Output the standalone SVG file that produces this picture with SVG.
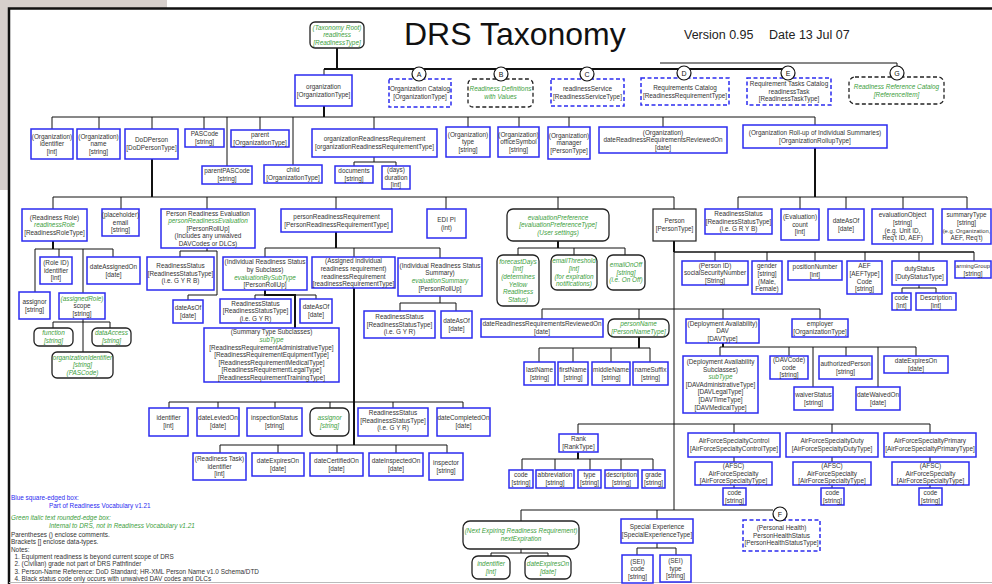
<svg xmlns="http://www.w3.org/2000/svg" width="992" height="584" viewBox="0 0 992 584">
<style>
text{font-family:"Liberation Sans",Arial,sans-serif;font-size:6.4px;fill:#333;text-anchor:middle}
.g{fill:#3c9e3c;font-style:italic}
.lg{text-anchor:start}
.lb{fill:#2b2bf0}
.b{fill:#fff;stroke:#2b2bf0;stroke-width:1.5}
.bd{fill:#fff;stroke:#2b2bf0;stroke-width:1.5;stroke-dasharray:4 2.5}
.k{fill:#fff;stroke:#222;stroke-width:1.2}
.r{fill:#fff;stroke:#222;stroke-width:1.3}
.rd{fill:#fff;stroke:#222;stroke-width:1.3;stroke-dasharray:4 2.5}
.ci{fill:#fff;stroke:#111;stroke-width:1.2}
.cl{font-size:7px;fill:#111}
.sm{font-size:5.8px}
#connectors path{fill:none;stroke:#111;stroke-width:1}
#connectors path.t{stroke-width:2}
#connectors path.m{stroke-width:1.5}
</style>
<rect x="0" y="0" width="992" height="584" fill="#fff"/>
<path d="M0 0H167V8H8V190H0Z" fill="#d6cfcc"/>
<path d="M9 584V8.5H992" fill="none" stroke="#111" stroke-width="2.5"/>
<path d="M9 582.5H992" fill="none" stroke="#bbb" stroke-width="1"/>
<text x="404" y="45" style="font-size:32px;text-anchor:start;fill:#111">DRS Taxonomy</text>
<text x="684" y="39" style="font-size:12.5px;text-anchor:start;fill:#222">Version 0.95</text>
<text x="769" y="39" style="font-size:12.5px;text-anchor:start;fill:#222">Date 13 Jul 07</text>

<g id="connectors">
<path class="t" d="M337 48V69M324 69H788M324 106V117M152 159V197M815 148V197M53 241V249M336 232V248M354 288V445M558 241V248M674 241V252M639 337V348M723 343V347M578 452V459M265 290V295H295V328"/>
<path d="M324 69V75M660 63H897V66"/>
<path d="M52 117H815M52 117V129M99 117V129M152 117V129M204 117V129M227 117V166M260 117V130M293 117V165M374 117V129M468 117V127M519 117V127M569 117V127M663 117V127M815 117V125"/>
<path d="M374 157V162M354 162H396M354 162V166M396 162V166"/>
<path d="M53 197H674M53 197V209M121 197V209M207 197V209M336 197V209M446 197V209M558 197V209M674 197V209"/>
<path d="M738 197H967M738 197V209M800 197V209M846 197V209M903 197V209M967 197V209"/>
<path d="M35 249H113M35 249V292M59 249V257M83 249V293M113 249V257"/>
<path d="M83 319V352M53 322H110M53 322V328M110 322V328"/>
<path d="M207 248V251M180 251H217M180 251V257M217 251V295H188V300"/>
<path d="M265 248H440M265 248V257M354 248V257M440 248V258"/>
<path d="M255 295H316M255 295V299M316 295V299"/>
<path d="M169 402H463M169 402V408M218 402V408M275 402V408M330 402V408M393 402V408M463 402V408"/>
<path d="M220 445H447M220 445V453M278 445V453M337 445V453M396 445V453M447 445V453"/>
<path d="M440 296V303M400 303H456M400 303V311M456 303V311"/>
<path d="M518 248H625M518 248V255M574 248V255M625 248V255"/>
<path d="M674 252V510"/>
<path class="m" d="M674 252H974"/>
<path d="M715 252V261M767 252V261M815 252V261M865 252V261M919 252V261M974 252V261"/>
<path d="M919 285V288M902 288H936M902 288V293M936 288V293"/>
<path d="M542 309H820M542 309V319M639 309V319M723 309V319M820 309V319"/>
<path d="M539 348H650M539 348V362M573 348V362M611 348V362M650 348V362"/>
<path d="M720 347H916M720 347V356M789 347V356M813 347V387M846 347V356M878 347V387M916 347V356"/>
<path d="M578 424H930M578 424V434M734 424V433M832 424V433M930 424V433"/>
<path d="M522 459H653M522 459V470M555 459V470M590 459V470M621 459V470M653 459V470"/>
<path d="M734 457V462M734 485V488M832 457V462M832 485V488M930 457V462M930 485V488"/>
<path d="M521 510H773M521 510V521M657 510V519"/>
<path d="M521 549V553M491 553H548M491 553V556M548 553V556"/>
<path d="M657 543V548M637 548H676M637 548V555M676 548V555"/>
</g>

<g id="n-root"><rect class="r" x="310" y="22" width="54" height="26" rx="5"/><text class="g" x="337" y="29.6">(Taxonomy Root)</text><text class="g" x="337" y="37.2">readiness</text><text class="g" x="337" y="44.8">[ReadinessType]</text></g>
<g id="n-organization"><rect class="b" x="295" y="75" width="57" height="31"/><text x="323.5" y="88.9">organization</text><text x="323.5" y="96.5">[OrganizationType]</text></g>
<g id="n-catA"><rect class="bd" x="389" y="79" width="62" height="28"/><text x="420" y="91.4">Organization Catalog</text><text x="420" y="99">[OrganizationType]</text></g>
<g id="n-catB"><rect class="rd" x="468" y="79" width="65" height="28" rx="5"/><text class="g" x="500.5" y="91.4">Readiness Definitions</text><text class="g" x="500.5" y="99">with Values</text></g>
<g id="n-catC"><rect class="bd" x="551" y="79" width="73" height="27"/><text x="587.5" y="90.9">readinessService</text><text x="587.5" y="98.5">[ReadinessServiceType]</text></g>
<g id="n-catD"><rect class="bd" x="641" y="78" width="88" height="27"/><text x="685" y="89.9">Requirements Catalog</text><text x="685" y="97.5">[ReadinessRequirementType]</text></g>
<g id="n-catE"><rect class="bd" x="747" y="78" width="84" height="27"/><text x="789" y="86.1">Requirement Tasks Catalog</text><text x="789" y="93.7">readinessTask</text><text x="789" y="101.3">[ReadinessTaskType]</text></g>
<g id="n-catG"><rect class="rd" x="849" y="77" width="95" height="27" rx="6"/><text class="g" x="896.5" y="88.9">Readiness Reference Catalog</text><text class="g" x="896.5" y="96.5">[ReferenceItem]</text></g>
<g id="circles">
<circle class="ci" cx="419" cy="74" r="7"/><text class="cl" x="419" y="76.5">A</text>
<circle class="ci" cx="501" cy="74" r="7"/><text class="cl" x="501" y="76.5">B</text>
<circle class="ci" cx="587" cy="74" r="7"/><text class="cl" x="587" y="76.5">C</text>
<circle class="ci" cx="684" cy="73" r="7"/><text class="cl" x="684" y="75.5">D</text>
<circle class="ci" cx="788" cy="73" r="7"/><text class="cl" x="788" y="75.5">E</text>
<circle class="ci" cx="897" cy="73" r="7"/><text class="cl" x="897" y="75.5">G</text>
</g>

<g id="n-orgIdentifier"><rect class="b" x="31" y="129" width="42" height="30"/><text x="52" y="138.6">(Organization)</text><text x="52" y="146.2">identifier</text><text x="52" y="153.8">[int]</text></g>
<g id="n-orgName"><rect class="b" x="77" y="129" width="43" height="30"/><text x="98.5" y="138.6">(Organization)</text><text x="98.5" y="146.2">name</text><text x="98.5" y="153.8">[string]</text></g>
<g id="n-dodPerson"><rect class="b" x="125" y="129" width="53" height="30"/><text x="151.5" y="142.4">DoDPerson</text><text x="151.5" y="150">[DoDPersonType]</text></g>
<g id="n-pasCode"><rect class="b" x="185" y="129" width="39" height="18"/><text x="204.5" y="136.4">PASCode</text><text x="204.5" y="144">[string]</text></g>
<g id="n-parentPASCode"><rect class="b" x="202" y="166" width="50" height="18"/><text x="227" y="173.4">parentPASCode</text><text x="227" y="181">[string]</text></g>
<g id="n-parent"><rect class="b" x="231" y="130" width="58" height="17"/><text x="260" y="136.9">parent</text><text x="260" y="144.5">[OrganizationType]</text></g>
<g id="n-child"><rect class="b" x="264" y="165" width="58" height="18"/><text x="293" y="172.4">child</text><text x="293" y="180">[OrganizationType]</text></g>
<g id="n-orgReadReq"><rect class="b" x="312" y="129" width="125" height="28"/><text x="374.5" y="141.4">organizationReadinessRequirement</text><text x="374.5" y="149">[organizationReadinessRequirementType]</text></g>
<g id="n-documents"><rect class="b" x="335" y="166" width="38" height="17"/><text x="354" y="172.9">documents</text><text x="354" y="180.5">[string]</text></g>
<g id="n-duration"><rect class="b" x="382" y="166" width="28" height="23"/><text x="396" y="172.1">(days)</text><text x="396" y="179.7">duration</text><text x="396" y="187.3">[int]</text></g>
<g id="n-orgType"><rect class="b" x="446" y="127" width="44" height="30"/><text x="468" y="136.6">(Organization)</text><text x="468" y="144.2">type</text><text x="468" y="151.8">[string]</text></g>
<g id="n-officeSymbol"><rect class="b" x="498" y="127" width="41" height="30"/><text x="518.5" y="136.6">(Organization)</text><text x="518.5" y="144.2">officeSymbol</text><text x="518.5" y="151.8">[string]</text></g>
<g id="n-manager"><rect class="b" x="548" y="127" width="42" height="32"/><text x="569" y="137.6">(Organization)</text><text x="569" y="145.2">manager</text><text x="569" y="152.8">[PersonType]</text></g>
<g id="n-orgDateReviewed"><rect class="b" x="599" y="127" width="128" height="26"/><text x="663" y="134.6">(Organization)</text><text x="663" y="142.2">dateReadinessRequirementsReviewedOn</text><text x="663" y="149.8">[date]</text></g>
<g id="n-orgRollup"><rect class="b" x="743" y="125" width="144" height="23"/><text x="815" y="134.9">(Organization Roll-up of Individual Summaries)</text><text x="815" y="142.5">[OrganizationRollupType]</text></g>

<g id="n-rollupStatus"><rect class="b" x="705" y="209" width="67" height="25"/><text x="738.5" y="216.1">ReadinessStatus</text><text x="738.5" y="223.7">[ReadinessStatusType]</text><text x="738.5" y="231.3">(i.e. G R Y B)</text></g>
<g id="n-evalCount"><rect class="b" x="781" y="209" width="38" height="31"/><text x="800" y="219.1">(Evaluation)</text><text x="800" y="226.7">count</text><text x="800" y="234.3">[int]</text></g>
<g id="n-rollupDateAsOf"><rect class="b" x="828" y="209" width="36" height="31"/><text x="846" y="222.9">dateAsOf</text><text x="846" y="230.5">[date]</text></g>
<g id="n-evalObject"><rect class="b" x="872" y="209" width="61" height="35"/><text x="902.5" y="217.3">evaluationObject</text><text x="902.5" y="224.9">[string]</text><text x="902.5" y="232.5">(e.g. Unit ID,</text><text x="902.5" y="240.1">Req't ID, AEF)</text></g>
<g id="n-summaryType"><rect class="b" x="942" y="209" width="49" height="35"/><text x="966.5" y="217.3">summaryType</text><text x="966.5" y="224.9">[string]</text><text class="sm" x="966.5" y="232.5">(e.g. Organization,</text><text x="966.5" y="240.1">AEF, Req't)</text></g>

<g id="n-readinessRole"><rect class="b" x="22" y="209" width="65" height="32"/><text x="54.5" y="219.6">(Readiness Role)</text><text class="g" x="54.5" y="227.2">readinessRole</text><text x="54.5" y="234.8">[ReadinessRoleType]</text></g>
<g id="n-email"><rect class="b" x="102" y="209" width="37" height="27"/><text x="120.5" y="217.1">(placeholder)</text><text x="120.5" y="224.7">email</text><text x="120.5" y="232.3">[string]</text></g>
<g id="n-personReadinessEvaluation"><rect class="b" x="161" y="209" width="94" height="39"/><text x="208" y="215.5">Person Readiness Evaluation</text><text class="g" x="208" y="223.1">personReadinessEvaluation</text><text x="208" y="230.7">[PersonRollUp]</text><text x="208" y="238.3">(Includes any unwaived</text><text x="208" y="245.9">DAVCodes or DLCs)</text></g>
<g id="n-personReadinessRequirement"><rect class="b" x="281" y="209" width="111" height="23"/><text x="336.5" y="218.9">personReadinessRequirement</text><text x="336.5" y="226.5">[PersonReadinessRequirementType]</text></g>
<g id="n-ediPi"><rect class="b" x="427" y="209" width="39" height="29"/><text x="446.5" y="221.9">EDI PI</text><text x="446.5" y="229.5">(int)</text></g>
<g id="n-evalPreference"><rect class="r" x="507" y="209" width="102" height="32" rx="6"/><text class="g" x="558" y="219.6">evaluationPreference</text><text class="g" x="558" y="227.2">[evaluationPreferenceType]</text><text class="g" x="558" y="234.8">(User settings)</text></g>
<g id="n-person"><rect class="k" x="653" y="209" width="43" height="32"/><text x="674.5" y="223.4">Person</text><text x="674.5" y="231">[PersonType]</text></g>

<g id="n-roleId"><rect class="b" x="40" y="257" width="32" height="27"/><text x="56" y="265.1">(Role ID)</text><text x="56" y="272.7">identifier</text><text x="56" y="280.3">[int]</text></g>
<g id="n-dateAssignedOn"><rect class="b" x="87" y="257" width="53" height="27"/><text x="113.5" y="268.9">dateAssignedOn</text><text x="113.5" y="276.5">[date]</text></g>
<g id="n-roleAssignor"><rect class="b" x="19" y="292" width="31" height="27"/><text x="34.5" y="303.9">assignor</text><text x="34.5" y="311.5">[string]</text></g>
<g id="n-scope"><rect class="b" x="59" y="293" width="46" height="26"/><text class="g" x="82" y="300.6">(assignedRole)</text><text x="82" y="308.2">scope</text><text x="82" y="315.8">[string]</text></g>
<g id="n-function"><rect class="r" x="34" y="328" width="39" height="18" rx="5"/><text class="g" x="53.5" y="335.4">function</text><text class="g" x="53.5" y="343">[string]</text></g>
<g id="n-dataAccess"><rect class="r" x="92" y="328" width="39" height="18" rx="5"/><text class="g" x="111.5" y="335.4">dataAccess</text><text class="g" x="111.5" y="343">[string]</text></g>
<g id="n-organizationIdentifier"><rect class="r" x="52" y="352" width="61" height="26" rx="5"/><text class="g" x="82.5" y="359.6">organizationIdentifier</text><text class="g" x="82.5" y="367.2">[string]</text><text class="g" x="82.5" y="374.8">(PASCode)</text></g>

<g id="n-preStatus"><rect class="b" x="147" y="257" width="67" height="33"/><text x="180.5" y="268.1">ReadinessStatus</text><text x="180.5" y="275.7">[ReadinessStatusType]</text><text x="180.5" y="283.3">(i.e. G Y R B)</text></g>
<g id="n-preDateAsOf"><rect class="b" x="173" y="300" width="30" height="23"/><text x="188" y="309.9">dateAsOf</text><text x="188" y="317.5">[date]</text></g>
<g id="n-evalBySubType"><rect class="b" x="223" y="257" width="84" height="33"/><text x="265" y="264.3">(Individual Readiness Status</text><text x="265" y="271.9">by Subclass)</text><text class="g" x="265" y="279.5">evaluationBySubType</text><text x="265" y="287.1">[PersonRollUp]</text></g>
<g id="n-readinessRequirement"><rect class="b" x="312" y="257" width="83" height="31"/><text x="353.5" y="263.3">(Assigned individual</text><text x="353.5" y="270.9">readiness requirement)</text><text x="353.5" y="278.5">readinessRequirement</text><text x="353.5" y="286.1">[readinessRequirementType]</text></g>
<g id="n-evalSummary"><rect class="b" x="398" y="258" width="84" height="38"/><text x="440" y="267.8">(Individual Readiness Status</text><text x="440" y="275.4">Summary)</text><text class="g" x="440" y="283">evaluationSummary</text><text x="440" y="290.6">[PersonRollUp]</text></g>
<g id="n-subStatus"><rect class="b" x="220" y="299" width="71" height="24"/><text x="255.5" y="305.6">ReadinessStatus</text><text x="255.5" y="313.2">[ReadinessStatusType]</text><text x="255.5" y="320.8">(i.e. G Y R)</text></g>
<g id="n-subDateAsOf"><rect class="b" x="300" y="299" width="32" height="24"/><text x="316" y="309.4">dateAsOf</text><text x="316" y="317">[date]</text></g>
<g id="n-subType"><rect class="b" x="204" y="328" width="135" height="54"/><text x="271.5" y="334.4">(Summary Type Subclasses)</text><text class="g" x="271.5" y="342">subType</text><text x="271.5" y="349.6">[ReadinessRequirementAdministrativeType]</text><text x="271.5" y="357.2">[ReadinessRequirementEquipmentType]</text><text x="271.5" y="364.8">[ReadinessRequirementMedicalType]</text><text x="271.5" y="372.4">[ReadinessRequirementLegalType]</text><text x="271.5" y="380">[ReadinessRequirementTrainingType]</text></g>

<g id="n-rrIdentifier"><rect class="b" x="149" y="408" width="39" height="28"/><text x="168.5" y="420.4">identifier</text><text x="168.5" y="428">[int]</text></g>
<g id="n-dateLeviedOn"><rect class="b" x="197" y="408" width="42" height="28"/><text x="218" y="420.4">dateLeviedOn</text><text x="218" y="428">[date]</text></g>
<g id="n-inspectionStatus"><rect class="b" x="247" y="408" width="55" height="28"/><text x="274.5" y="420.4">inspectionStatus</text><text x="274.5" y="428">[string]</text></g>
<g id="n-rrAssignor"><rect class="r" x="310" y="408" width="39" height="28" rx="6"/><text class="g" x="329.5" y="420.4">assignor</text><text class="g" x="329.5" y="428">[string]</text></g>
<g id="n-rrStatus"><rect class="b" x="358" y="408" width="70" height="28"/><text x="393" y="415">ReadinessStatus</text><text x="393" y="422.6">[ReadinessStatusType]</text><text x="393" y="430.2">(i.e.  G Y R)</text></g>
<g id="n-dateCompletedOn"><rect class="b" x="437" y="408" width="53" height="28"/><text x="463.5" y="420.4">dateCompletedOn</text><text x="463.5" y="428">[date]</text></g>
<g id="n-taskIdentifier"><rect class="b" x="193" y="453" width="53" height="27"/><text x="219.5" y="461.1">(Readiness Task)</text><text x="219.5" y="468.7">identifier</text><text x="219.5" y="476.3">[int]</text></g>
<g id="n-rrDateExpiresOn"><rect class="b" x="252" y="453" width="52" height="23"/><text x="278" y="462.9">dateExpiresOn</text><text x="278" y="470.5">[date]</text></g>
<g id="n-dateCertifiedOn"><rect class="b" x="310" y="453" width="53" height="23"/><text x="336.5" y="462.9">dateCertifiedOn</text><text x="336.5" y="470.5">[date]</text></g>
<g id="n-dateInspectedOn"><rect class="b" x="369" y="453" width="54" height="23"/><text x="396" y="462.9">dateInspectedOn</text><text x="396" y="470.5">[date]</text></g>
<g id="n-inspector"><rect class="b" x="429" y="453" width="34" height="27"/><text x="446" y="464.9">inspector</text><text x="446" y="472.5">[string]</text></g>
<g id="n-sumStatus"><rect class="b" x="364" y="311" width="71" height="27"/><text x="399.5" y="319.1">ReadinessStatus</text><text x="399.5" y="326.7">[ReadinessStatusType]</text><text x="399.5" y="334.3">(i.e. G Y R)</text></g>
<g id="n-sumDateAsOf"><rect class="b" x="441" y="311" width="31" height="27"/><text x="456.5" y="322.9">dateAsOf</text><text x="456.5" y="330.5">[date]</text></g>

<g id="n-forecastDays"><rect class="r" x="497" y="255" width="42" height="51" rx="6"/><text class="g" x="518" y="263.7">forecastDays</text><text class="g" x="518" y="271.3">[int]</text><text class="g" x="518" y="278.9">(determines</text><text class="g" x="518" y="286.5">Yellow</text><text class="g" x="518" y="294.1">Readiness</text><text class="g" x="518" y="301.7">Status)</text></g>
<g id="n-emailThreshold"><rect class="r" x="551" y="255" width="46" height="35" rx="6"/><text class="g" x="574" y="263.3">emailThreshold</text><text class="g" x="574" y="270.9">[int]</text><text class="g" x="574" y="278.5">(for expiration</text><text class="g" x="574" y="286.1">notifications)</text></g>
<g id="n-emailOnOff"><rect class="r" x="607" y="255" width="38" height="35" rx="6"/><text class="g" x="626" y="267.1">emailOnOff</text><text class="g" x="626" y="274.7">[string]</text><text class="g" x="626" y="282.3">(i.e. On Off)</text></g>

<g id="n-ssn"><rect class="b" x="682" y="261" width="66" height="24"/><text x="715" y="267.6">(Person ID)</text><text x="715" y="275.2">socialSecurityNumber</text><text x="715" y="282.8">[String]</text></g>
<g id="n-gender"><rect class="b" x="752" y="261" width="30" height="33"/><text x="767" y="268.3">gender</text><text x="767" y="275.9">[string]</text><text x="767" y="283.5">(Male,</text><text x="767" y="291.1">Female)</text></g>
<g id="n-positionNumber"><rect class="b" x="788" y="261" width="54" height="19"/><text x="815" y="268.9">positionNumber</text><text x="815" y="276.5">[int]</text></g>
<g id="n-aef"><rect class="b" x="847" y="261" width="35" height="33"/><text x="864.5" y="268.3">AEF</text><text x="864.5" y="275.9">[AEFType]</text><text x="864.5" y="283.5">Code</text><text x="864.5" y="291.1">[string]</text></g>
<g id="n-dutyStatus"><rect class="b" x="892" y="261" width="55" height="24"/><text x="919.5" y="271.4">dutyStatus</text><text x="919.5" y="279">[DutyStatusType]</text></g>
<g id="n-dutyCode"><rect class="b" x="892" y="293" width="19" height="17"/><text x="901.5" y="299.9">code</text><text x="901.5" y="307.5">[int]</text></g>
<g id="n-dutyDescription"><rect class="b" x="916" y="293" width="40" height="17"/><text x="936" y="299.9">Description</text><text x="936" y="307.5">[int]</text></g>
<g id="n-armingGroup"><rect class="b" x="955" y="261" width="36" height="17"/><text class="sm" x="973" y="267.9">armingGroup</text><text x="973" y="275.5">[string]</text></g>

<g id="n-personDateReviewed"><rect class="b" x="481" y="319" width="122" height="18"/><text x="542" y="326.4">dateReadinessRequirementsReviewedOn</text><text x="542" y="334">[date]</text></g>
<g id="n-personName"><rect class="r" x="608" y="319" width="61" height="18" rx="6"/><text class="g" x="638.5" y="326.4">personName</text><text class="g" x="638.5" y="334">[PersonNameType]</text></g>
<g id="n-lastName"><rect class="b" x="524" y="362" width="31" height="23"/><text x="539.5" y="371.9">lastName</text><text x="539.5" y="379.5">[string]</text></g>
<g id="n-firstName"><rect class="b" x="558" y="362" width="30" height="23"/><text x="573" y="371.9">firstName</text><text x="573" y="379.5">[string]</text></g>
<g id="n-middleName"><rect class="b" x="592" y="362" width="38" height="23"/><text x="611" y="371.9">middleName</text><text x="611" y="379.5">[string]</text></g>
<g id="n-nameSuffix"><rect class="b" x="633" y="362" width="35" height="23"/><text x="650.5" y="371.9">nameSuffix</text><text x="650.5" y="379.5">[string]</text></g>
<g id="n-dav"><rect class="b" x="686" y="319" width="73" height="24"/><text x="722.5" y="325.6">(Deployment Availability)</text><text x="722.5" y="333.2">DAV</text><text x="722.5" y="340.8">[DAVType]</text></g>
<g id="n-employer"><rect class="b" x="792" y="319" width="56" height="18"/><text x="820" y="326.4">employer</text><text x="820" y="334">[OrganizationType]</text></g>
<g id="n-davSubType"><rect class="b" x="683" y="356" width="75" height="57"/><text x="720.5" y="363.9">(Deployment Availability</text><text x="720.5" y="371.5">Subclasses)</text><text class="g" x="720.5" y="379.1">subType</text><text x="720.5" y="386.7">[DAVAdministrativeType]</text><text x="720.5" y="394.3">[DAVLegalType]</text><text x="720.5" y="401.9">[DAVTimeType]</text><text x="720.5" y="409.5">[DAVMedicalType]</text></g>
<g id="n-davCode"><rect class="b" x="770" y="356" width="38" height="23"/><text x="789" y="362.1">(DAVCode)</text><text x="789" y="369.7">code</text><text x="789" y="377.3">[string]</text></g>
<g id="n-waiverStatus"><rect class="b" x="794" y="387" width="39" height="23"/><text x="813.5" y="396.9">waiverStatus</text><text x="813.5" y="404.5">[string]</text></g>
<g id="n-authorizedPerson"><rect class="b" x="819" y="356" width="53" height="23"/><text x="845.5" y="365.9">authorizedPerson</text><text x="845.5" y="373.5">[string]</text></g>
<g id="n-dateWaivedOn"><rect class="b" x="856" y="387" width="44" height="23"/><text x="878" y="396.9">dateWaivedOn</text><text x="878" y="404.5">[date]</text></g>
<g id="n-davDateExpiresOn"><rect class="b" x="884" y="356" width="64" height="17"/><text x="916" y="362.9">dateExpiresOn</text><text x="916" y="370.5">[date]</text></g>

<g id="n-rank"><rect class="b" x="559" y="434" width="39" height="18"/><text x="578.5" y="441.4">Rank</text><text x="578.5" y="449">[RankType]</text></g>
<g id="n-rankCode"><rect class="b" x="509" y="470" width="24" height="18"/><text x="521" y="477.4">code</text><text x="521" y="485">[string]</text></g>
<g id="n-abbreviation"><rect class="b" x="536" y="470" width="38" height="18"/><text x="555" y="477.4">abbreviation</text><text x="555" y="485">[string]</text></g>
<g id="n-rankType"><rect class="b" x="578" y="470" width="23" height="18"/><text x="589.5" y="477.4">type</text><text x="589.5" y="485">[string]</text></g>
<g id="n-description"><rect class="b" x="605" y="470" width="33" height="18"/><text x="621.5" y="477.4">description</text><text x="621.5" y="485">[string]</text></g>
<g id="n-grade"><rect class="b" x="642" y="470" width="23" height="18"/><text x="653.5" y="477.4">grade</text><text x="653.5" y="485">[string]</text></g>

<g id="n-afsControl"><rect class="b" x="688" y="433" width="92" height="24"/><text x="734" y="443.4">AirForceSpecialtyControl</text><text x="734" y="451">[AirForceSpecialtyControlType]</text></g>
<g id="n-afsc1"><rect class="b" x="695" y="462" width="77" height="23"/><text x="733.5" y="468.1">(AFSC)</text><text x="733.5" y="475.7">AirForceSpecialty</text><text x="733.5" y="483.3">[AirForceSpecialtyType]</text></g>
<g id="n-afsc1code"><rect class="b" x="723" y="488" width="23" height="17"/><text x="734.5" y="494.9">code</text><text x="734.5" y="502.5">[string]</text></g>
<g id="n-afsDuty"><rect class="b" x="786" y="433" width="92" height="24"/><text x="832" y="443.4">AirForceSpecialtyDuty</text><text x="832" y="451">[AirForceSpecialtyDutyType]</text></g>
<g id="n-afsc2"><rect class="b" x="793" y="462" width="78" height="23"/><text x="832" y="468.1">(AFSC)</text><text x="832" y="475.7">AirForceSpecialty</text><text x="832" y="483.3">[AirForceSpecialtyType]</text></g>
<g id="n-afsc2code"><rect class="b" x="821" y="488" width="23" height="17"/><text x="832.5" y="494.9">code</text><text x="832.5" y="502.5">[string]</text></g>
<g id="n-afsPrimary"><rect class="b" x="884" y="433" width="92" height="24"/><text x="930" y="443.4">AirForceSpecialtyPrimary</text><text x="930" y="451">[AirForceSpecialtyPrimaryType]</text></g>
<g id="n-afsc3"><rect class="b" x="892" y="462" width="77" height="23"/><text x="930.5" y="468.1">(AFSC)</text><text x="930.5" y="475.7">AirForceSpecialty</text><text x="930.5" y="483.3">[AirForceSpecialtyType]</text></g>
<g id="n-afsc3code"><rect class="b" x="919" y="488" width="23" height="17"/><text x="930.5" y="494.9">code</text><text x="930.5" y="502.5">[string]</text></g>

<g id="n-nextExpiration"><rect class="r" x="463" y="521" width="116" height="28" rx="7"/><text class="g" x="521" y="533.4">(Next Expiring Readiness Requirement)</text><text class="g" x="521" y="541">nextExpiration</text></g>
<g id="n-nextIdentifier"><rect class="r" x="472" y="556" width="38" height="23" rx="6"/><text class="g" x="491" y="565.9">indentifier</text><text class="g" x="491" y="573.5">[int]</text></g>
<g id="n-nextDateExpiresOn"><rect class="r" x="525" y="556" width="46" height="23" rx="6"/><text class="g" x="548" y="565.9">dateExpiresOn</text><text class="g" x="548" y="573.5">[date]</text></g>
<g id="n-specialExperience"><rect class="b" x="621" y="519" width="72" height="24"/><text x="657" y="529.4">Special  Experience</text><text x="657" y="537">[SpecialExperienceType]</text></g>
<g id="n-seiCode"><rect class="b" x="622" y="555" width="31" height="28"/><text x="637.5" y="563.6">(SEI)</text><text x="637.5" y="571.2">code</text><text x="637.5" y="578.8">[string]</text></g>
<g id="n-seiType"><rect class="b" x="660" y="555" width="31" height="27"/><text x="675.5" y="563.1">(SEI)</text><text x="675.5" y="570.7">type</text><text x="675.5" y="578.3">[string]</text></g>
<g id="n-personHealth"><rect class="bd" x="743" y="520" width="77" height="31"/><text x="781.5" y="530.1">(Personal Health)</text><text x="781.5" y="537.7">PersonHealthStatus</text><text x="781.5" y="545.3">[PersonHealthStatusType]</text><circle class="ci" cx="780" cy="514" r="7"/><text class="cl" x="780" y="516.5">F</text></g>

<g id="legend">
<text class="lg lb" x="11" y="500">Blue square-edged box:</text>
<text class="lg lb" x="49" y="507.5">Part of Readiness Vocabulary v1.21</text>
<text class="lg g" x="11" y="520">Green italic text rounded-edge box:</text>
<text class="lg g" x="49" y="527.5">Internal to DRS, not in Readiness Vocabulary v1.21</text>
<text class="lg" x="11" y="536.5">Parentheses () enclose comments.</text>
<text class="lg" x="11" y="544.2">Brackets [] enclose data-types.</text>
<text class="lg" x="11" y="551.5">Notes:</text>
<text class="lg" x="14.5" y="558.7">1. Equipment readiness is beyond current scope of DRS</text>
<text class="lg" x="14.5" y="566.4">2. (Civilian) grade not part of DRS Pathfinder</text>
<text class="lg" x="14.5" y="574">3. Person-Name Reference: DoD Standard; HR-XML Person Name v1.0 Schema/DTD</text>
<text class="lg" x="14.5" y="581.3">4. Black status code only occurs with unwaived DAV codes and DLCs</text>
</g>
</svg>
